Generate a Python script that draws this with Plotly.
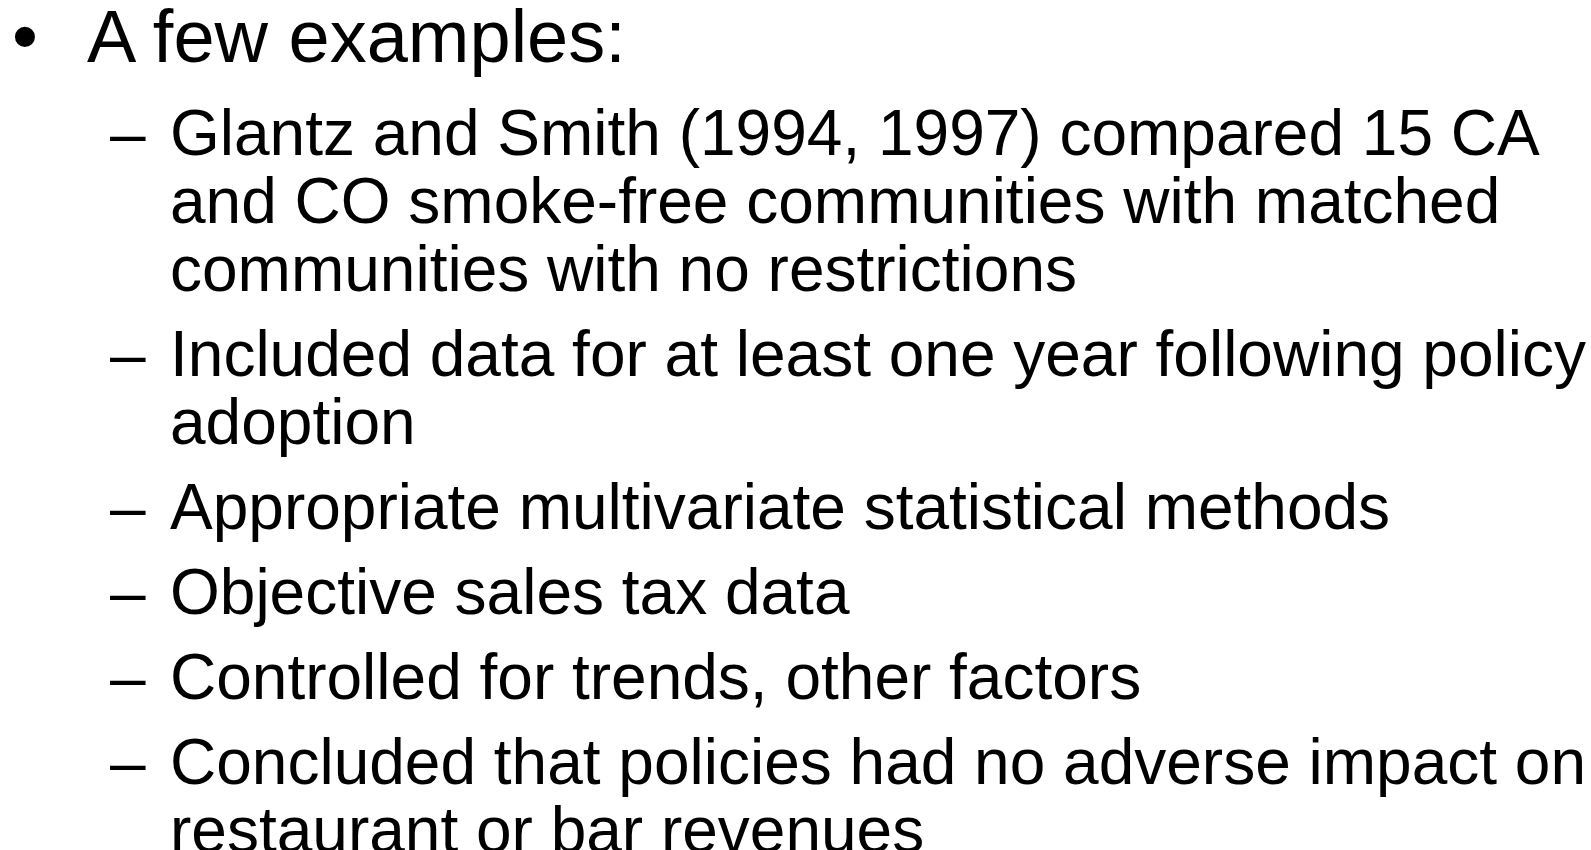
import plotly.graph_objects as go

# slide text
heading = "A few examples:"
items = [
    ["Glantz and Smith (1994, 1997) compared 15 CA",
     "and CO smoke-free communities with matched",
     "communities with no restrictions"],
    ["Included data for at least one year following policy",
     "adoption"],
    ["Appropriate multivariate statistical methods"],
    ["Objective sales tax data"],
    ["Controlled for trends, other factors"],
    ["Concluded that policies had no adverse impact on",
     "restaurant or bar revenues"],
]

W, H = 1591, 850
FONT = "Arial, Liberation Sans, sans-serif"
MAIN_SIZE = 74
SUB_SIZE = 64

# baselines in pixels
MAIN_BASE = 62
SUB_FIRST_BASE = 155
WRAP_STEP = 68
ITEM_STEP = 85


def text_ann(x, baseline, text, size):
    # annotation box is centred on y; baseline sits ~0.3465 em below centre
    return dict(
        x=x, y=baseline - 0.3465 * size, xref="x", yref="y",
        text=text, showarrow=False, xanchor="left", yanchor="middle",
        borderpad=0, font=dict(family=FONT, size=size, color="black"),
    )


annotations = [
    text_ann(11, MAIN_BASE, "\u2022", MAIN_SIZE),
    text_ann(86, MAIN_BASE, heading, MAIN_SIZE),
]

base = SUB_FIRST_BASE
for item in items:
    annotations.append(text_ann(109, base, "\u2013", SUB_SIZE))
    for i, line in enumerate(item):
        annotations.append(text_ann(169, base, line, SUB_SIZE))
        if i < len(item) - 1:
            base += WRAP_STEP
    base += ITEM_STEP

fig = go.Figure()
fig.update_xaxes(range=[0, W], visible=False, fixedrange=True)
fig.update_yaxes(range=[H, 0], visible=False, fixedrange=True)
fig.update_layout(
    width=W, height=H,
    margin=dict(l=0, r=0, t=0, b=0),
    plot_bgcolor="white", paper_bgcolor="white",
    annotations=annotations,
    showlegend=False,
)
fig.write_html(
    "out.html",
    config={"displayModeBar": False},
    post_script="document.body.style.margin='0';document.body.style.overflow='hidden';",
)
